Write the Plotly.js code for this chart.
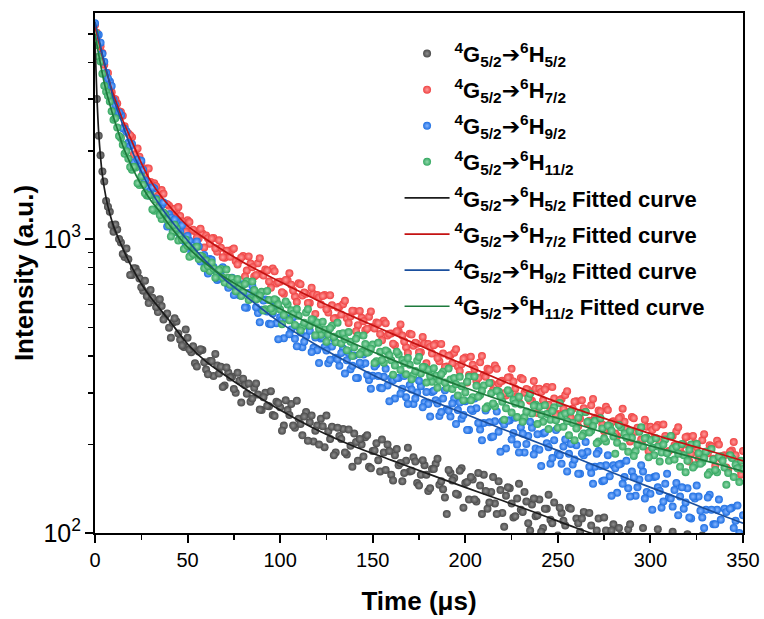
<!DOCTYPE html>
<html>
<head>
<meta charset="utf-8">
<script src="https://cdn.plot.ly/plotly-3.0.1.min.js"></script>
<style>
html,body{margin:0;padding:0;background:#fff;}
#chart{width:764px;height:619px;}
</style>
</head>
<body>
<div id="chart"></div>
<script>
// Sampled times of the measured decay (µs): even and odd channels
const timesEven = [0,2,4,6,8,10,12,14,16,18,20,22,24,26,28,30,32,34,36,38,40,42,44,46,48,50,52,54,56,58,60,62,64,66,68,70,72,74,76,78,80,82,84,86,88,90,92,94,96,98,100,102,104,106,108,110,112,114,116,118,120,122,124,126,128,130,132,134,136,138,140,142,144,146,148,150,152,154,156,158,160,162,164,166,168,170,172,174,176,178,180,182,184,186,188,190,192,194,196,198,200,202,204,206,208,210,212,214,216,218,220,222,224,226,228,230,232,234,236,238,240,242,244,246,248,250,252,254,256,258,260,262,264,266,268,270,272,274,276,278,280,282,284,286,288,290,292,294,296,298,300,302,304,306,308,310,312,314,316,318,320,322,324,326,328,330,332,334,336,338,340,342,344,346,348,350];
const timesOdd = [1,3,5,7,9,11,13,15,17,19,21,23,25,27,29,31,33,35,37,39,41,43,45,47,49,51,53,55,57,59,61,63,65,67,69,71,73,75,77,79,81,83,85,87,89,91,93,95,97,99,101,103,105,107,109,111,113,115,117,119,121,123,125,127,129,131,133,135,137,139,141,143,145,147,149,151,153,155,157,159,161,163,165,167,169,171,173,175,177,179,181,183,185,187,189,191,193,195,197,199,201,203,205,207,209,211,213,215,217,219,221,223,225,227,229,231,233,235,237,239,241,243,245,247,249,251,253,255,257,259,261,263,265,267,269,271,273,275,277,279,281,283,285,287,289,291,293,295,297,299,301,303,305,307,309,311,313,315,317,319,321,323,325,327,329,331,333,335,337,339,341,343,345,347,349];

// Measured intensities (a.u.), 4G5/2 -> 6H5/2
const h52Even = [4650,2250,1700,1350,1240,1060,1080,975,870,855,755,795,735,668,640,672,620,565,592,548,500,520,525,455,430,462,412,378,415,420,360,385,342,372,368,318,352,340,300,330,335,298,280,312,296,262,300,270,252,280,268,232,262,275,228,245,215,258,238,205,232,245,196,222,230,188,214,226,185,198,218,176,200,212,168,190,202,162,188,200,158,184,170,150,176,162,181,148,158,170,139,165,172,146,141,116,160,154,135,166,148,130,152,128,145,158,121,138,126,150,117,134,142,113,131,120,138,108,125,114,130,104,121,111,127,98,117,106,122,96,112,101,118,92,106,97,112,88,102,93,107,85,98,90,103,82,95,87,104,80,92,84,103,77,89,81,101,75,86,79,99,73,84,77,98,71,82,75,88,70,80,73,86,68,78,71];
const h52Odd = [3000,1930,1572,1290,1118,1122,1002,891,930,756,796,772,686,722,606,632,588,625,533,559,462,538,478,435,493,421,432,369,422,381,347,385,407,349,314,366,338,309,351,278,319,323,287,323,263,290,271,304,250,277,223,283,252,232,282,235,249,206,251,223,200,231,251,209,184,228,209,188,225,168,204,209,182,215,166,191,177,208,164,190,151,193,173,160,195,163,175,145,177,158,142,165,179,150,132,164,151,136,163,122,149,155,130,160,116,139,127,155,116,140,105,143,126,114,147,118,128,102,131,115,101,121,135,108,93,122,110,97,121,85,108,112,95,117,85,102,93,113,85,102,77,104,92,83,107,86,93,74,95,83,73,88,97,78,67,88,80,70,88,61,79,82,69,85,62,74,68,82,62,75,56,76,67,61,78];

// 4G5/2 -> 6H7/2
const h72Even = [5360,4690,4300,3675,3420,3010,2895,2710,2425,2290,2225,1940,1910,1690,1740,1565,1550,1405,1470,1320,1300,1190,1255,1200,1100,1160,1070,1065,1005,1045,1030,965,1010,907,936,865,913,920,843,846,876,782,826,747,829,761,788,718,795,707,716,652,725,700,638,708,643,652,607,651,646,599,646,563,596,539,589,601,538,546,570,510,540,490,545,503,521,476,528,470,478,436,486,470,429,477,434,441,412,442,440,408,441,384,408,369,403,411,369,375,396,345,374,330,381,345,362,324,372,322,330,294,339,328,292,337,300,307,282,310,310,283,314,264,287,254,286,295,258,265,281,245,266,236,272,247,261,234,269,233,240,214,248,239,214,248,221,227,208,230,230,210,233,197,214,190,214,222,194,200,213,186,202,179,207,189,199,179,206,179,184,164,191,184,165,190];
const h72Odd = [5045,4540,3927,3682,3162,2998,2725,2634,2330,2258,1943,2038,1825,1668,1742,1526,1516,1345,1428,1314,1219,1270,1286,1148,1060,1144,1078,1012,1086,937,1008,1006,931,992,868,913,871,930,821,867,746,874,803,755,862,752,782,683,778,715,660,726,766,669,611,703,658,607,684,557,633,641,578,645,537,586,554,617,519,571,486,570,526,496,568,497,518,453,518,477,441,486,513,449,410,474,444,412,465,378,430,436,394,440,367,401,378,422,356,392,325,398,361,337,400,340,359,306,362,328,299,338,362,310,279,334,309,282,329,256,302,308,273,314,252,283,265,304,247,280,231,283,258,241,286,245,259,222,262,238,218,246,265,227,205,246,228,208,243,190,224,229,204,234,188,213,199,229,186,212,175,214,196,183,217,187,197,169,200,183,167,189,204,174,158];

// 4G5/2 -> 6H9/2
const h92Even = [5430,4965,4275,3685,3440,2980,2710,2640,2375,2130,2110,1770,1800,1720,1505,1460,1490,1270,1305,1208,1215,1065,1153,1060,988,1026,906,938,945,847,820,856,805,727,778,721,683,739,685,645,703,584,643,645,561,575,624,516,559,518,543,460,538,493,458,502,429,467,488,427,419,459,430,378,431,395,371,425,387,361,402,337,374,378,332,343,375,312,340,318,336,287,337,310,290,319,275,301,316,278,275,302,283,250,287,264,249,287,262,245,281,224,260,266,225,237,268,212,240,221,240,194,242,219,200,229,188,214,228,194,192,218,202,172,207,186,172,208,186,171,199,159,184,189,160,168,190,150,170,156,170,137,172,155,142,162,134,152,162,138,136,155,143,122,147,132,123,148,133,121,142,112,131,133,113,120,135,107,120,111,121,97,122,110,100,115];
const h92Odd = [4952,4667,4020,3527,3324,2865,2702,2387,2320,2073,1827,1866,1848,1583,1409,1502,1375,1253,1334,1104,1184,1167,1050,1115,944,988,922,982,839,884,764,851,784,735,802,711,725,646,706,652,585,656,695,587,522,618,568,514,591,457,532,539,475,542,432,481,448,510,413,463,379,462,418,389,458,390,410,349,410,371,337,380,405,345,310,369,342,311,362,281,331,337,298,342,275,308,287,330,268,302,249,305,276,258,306,261,276,235,278,252,224,263,287,237,207,261,238,213,259,189,234,241,208,247,188,218,201,239,185,217,169,220,196,180,224,184,197,162,201,178,159,187,204,168,147,186,169,151,184,134,166,171,147,176,133,155,143,170,131,154,120,156,139,128,159,131,140,115,143,127,113,133,145,119,104,132,120,107,130,95,118,121,104,124,94];

// 4G5/2 -> 6H11/2
const h112Even = [5060,4175,3660,3175,2945,2550,2400,2210,1955,1880,1725,1755,1528,1532,1410,1415,1250,1280,1172,1210,1115,1055,1092,1030,926,950,878,937,856,872,846,780,795,762,792,712,740,737,665,692,661,720,630,671,628,662,578,621,569,618,576,552,600,573,511,549,504,563,508,532,521,473,493,474,508,446,476,479,419,448,429,470,413,440,414,438,384,414,380,414,387,372,405,388,347,374,345,386,349,367,360,327,343,330,354,312,333,337,294,316,301,340,290,317,295,318,270,299,270,303,280,266,299,284,248,274,248,288,255,273,269,239,254,243,268,228,251,255,215,237,227,256,218,239,223,241,205,227,205,231,213,203,229,218,189,211,190,221,197,211,207,184,197,188,208,176,194,197,168,184,176,200,170,187,174,189,161,178,161,182,167,160,180,171,149,165];
const h112Odd = [4586,4023,3328,3076,2724,2580,2246,2095,1992,1760,1763,1552,1636,1434,1409,1263,1363,1208,1234,1165,1022,1120,990,998,997,871,892,943,879,796,811,833,740,784,741,788,700,710,732,641,704,621,718,625,643,572,667,581,625,600,514,614,530,558,579,489,520,578,534,471,496,524,448,498,466,520,442,457,483,400,458,406,470,411,424,379,444,388,418,403,346,414,359,378,394,334,356,397,367,325,343,364,312,347,325,363,309,321,340,283,327,283,341,291,305,266,324,276,305,292,243,306,257,276,291,239,259,298,271,235,253,272,226,260,242,277,230,240,259,207,247,214,258,220,231,202,246,210,232,223,186,233,197,211,223,183,200,229,210,181,195,210,175,200,187,214,178,186,201,161,192,167,201,172,180,158,193,164,182,176,146,184,155,166,176];

// Fitted decay curves (a.u.) at these times (µs)
const fitTimes = [0,1,2,3,4,6,8,10,12,15,20,25,30,35,40,50,60,70,80,90,100,120,140,160,180,200,220,240,260,280,300,320,340,350];
const fit52  = [4700,3100,2300,1900,1650,1380,1220,1110,1030,930,800,705,635,580,530,440,383,345,313,286,262,224,197,177,159,143,129,116,104,94,84,76,68.5,65];
const fit72  = [5300,5000,4720,4450,4200,3750,3400,3100,2860,2540,2150,1820,1580,1420,1300,1110,1000,910,835,772,716,620,543,478,422,373,330,294,264,240,218,200,184,176];
const fit92  = [5500,5150,4850,4540,4250,3800,3380,3000,2770,2450,2000,1700,1470,1305,1180,990,840,730,650,580,520,435,372,322,285,254,226,202,180,160,143,128,114,108];
const fit112 = [5000,4600,4250,3940,3650,3200,2880,2600,2380,2080,1760,1530,1360,1240,1120,940,825,742,680,627,580,503,441,390,348,312,282,257,235,215,198,183,169,162];

const names = [
  '<sup>4</sup>G<sub>5/2</sub>➔<sup>6</sup>H<sub>5/2</sub>',
  '<sup>4</sup>G<sub>5/2</sub>➔<sup>6</sup>H<sub>7/2</sub>',
  '<sup>4</sup>G<sub>5/2</sub>➔<sup>6</sup>H<sub>9/2</sub>',
  '<sup>4</sup>G<sub>5/2</sub>➔<sup>6</sup>H<sub>11/2</sub>'
];
const ptColors = ['#4a4a4a','#ef4242','#1d6ee2','#33a760'];
const ptTints  = ['#8e8e8e','#ff9a9a','#86b6ff','#92d8ac'];
const lineColors = ['#1c1c1c','#c41212','#1a4f9e','#1d7a3c'];
const ptsEven = [h52Even,h72Even,h92Even,h112Even];
const ptsOdd  = [h52Odd,h72Odd,h92Odd,h112Odd];
const fits = [fit52,fit72,fit92,fit112];

const traces = [];
for (let i=0;i<4;i++){
  traces.push({
    x: timesEven.concat(timesOdd), y: ptsEven[i].concat(ptsOdd[i]),
    type:'scatter', mode:'markers',
    name: '<b>'+names[i]+'</b>', legendgroup:'p'+i,
    marker:{size:8, color:ptColors[i], gradient:{type:'radial', color:ptTints[i]}, line:{width:0}},
    hoverinfo:'skip'
  });
}
for (let i=0;i<4;i++){
  traces.push({
    x: fitTimes, y: fits[i], type:'scatter', mode:'lines',
    name: '<b>'+names[i]+' Fitted curve</b>', legendgroup:'f'+i,
    line:{color:lineColors[i], width:1.7, shape:'spline', smoothing:0.8},
    hoverinfo:'skip'
  });
}

const fontFam = 'Arial, "Liberation Sans", "DejaVu Sans", sans-serif';
const layout = {
  width:764, height:619,
  margin:{l:95, r:21, t:13, b:86},
  paper_bgcolor:'#fff', plot_bgcolor:'#fff',
  font:{family:fontFam, color:'#000', size:20},
  showlegend:true,
  legend:{x:0.47, y:0.962, xanchor:'left', yanchor:'top', bgcolor:'rgba(0,0,0,0)',
          font:{family:fontFam, size:22, color:'#000'}, traceorder:'grouped', tracegroupgap:4.5, itemwidth:45},
  xaxis:{
    range:[0,350], dtick:50, tick0:0,
    showline:true, linecolor:'#000', linewidth:2, mirror:true,
    ticks:'outside', ticklen:8, tickwidth:2, tickcolor:'#000',
    minor:{dtick:25, ticks:'outside', ticklen:5, tickwidth:1.5, tickcolor:'#000'},
    showgrid:false, zeroline:false,
    tickfont:{family:fontFam, size:20, color:'#000'},
    title:{text:'<b>Time (μs)</b>', font:{family:fontFam, size:26, color:'#000'}, standoff:22}
  },
  yaxis:{
    type:'log', range:[2,3.77], dtick:1,
    exponentformat:'power', showexponent:'all',
    showline:true, linecolor:'#000', linewidth:2, mirror:true,
    ticks:'outside', ticklen:8, tickwidth:2, tickcolor:'#000',
    minor:{dtick:'D1', ticks:'outside', ticklen:5, tickwidth:1.5, tickcolor:'#000'},
    showgrid:false, zeroline:false,
    tickfont:{family:fontFam, size:20, color:'#000'},
    title:{text:'<b>Intensity (a.u.)</b>', font:{family:fontFam, size:26, color:'#000'}, standoff:2}
  }
};
Plotly.newPlot('chart', traces, layout, {displayModeBar:false, staticPlot:true});
</script>
</body>
</html>
